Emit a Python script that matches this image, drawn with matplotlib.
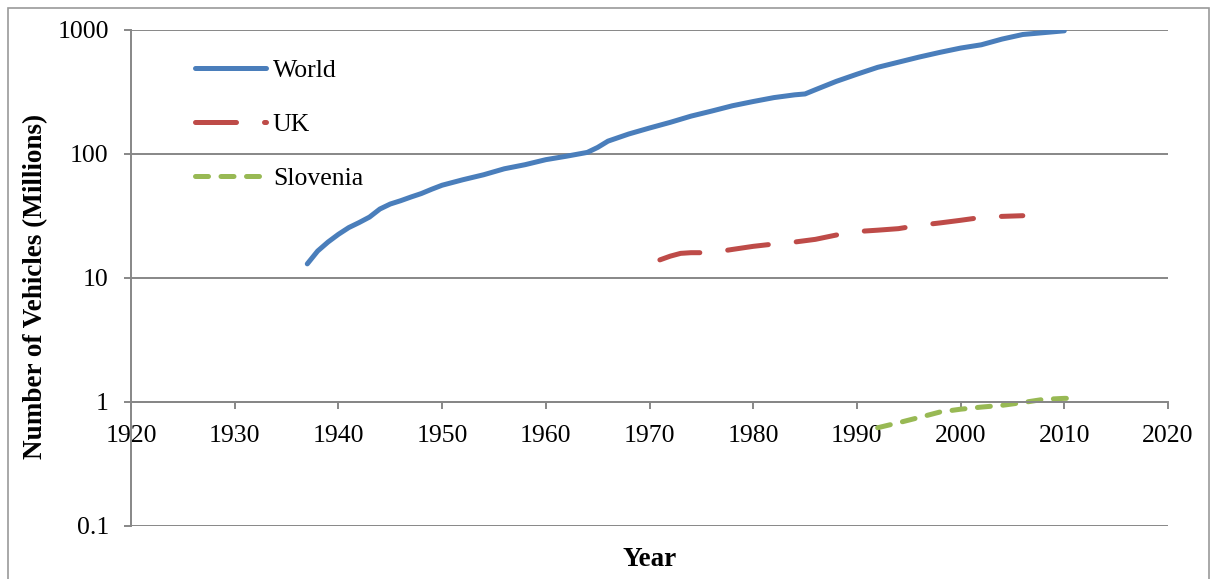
import matplotlib.pyplot as plt
from matplotlib.patches import Rectangle
from matplotlib.ticker import FixedLocator, NullLocator

plt.rcParams['font.family'] = ['Liberation Serif', 'DejaVu Serif']

# vehicles in use, millions
world_years = [1937, 1938, 1939, 1940, 1941, 1942, 1943, 1944, 1945, 1946, 1947, 1948,
               1949, 1950, 1952, 1954, 1956, 1958, 1960, 1962, 1964, 1965, 1966, 1968,
               1970, 1972, 1974, 1976, 1978, 1980, 1982, 1984, 1985, 1986, 1988, 1990,
               1992, 1994, 1996, 1998, 2000, 2002, 2004, 2006, 2008, 2010]
world = [13, 16.5, 19.5, 22.5, 25.5, 28, 31, 36, 39.5, 42, 45, 48,
         52, 56, 62, 68, 76, 82, 90, 96, 103, 113, 127, 145,
         162, 180, 202, 222, 245, 265, 285, 300, 305, 330, 385, 440,
         500, 550, 605, 660, 715, 760, 845, 920, 952, 985]

uk_years = [1971, 1972, 1973, 1974, 1975, 1977, 1978, 1980, 1982, 1984, 1986, 1988,
            1990, 1992, 1994, 1996, 1998, 2000, 2002, 2004, 2006]
uk = [14, 15, 15.8, 16, 16, 16.5, 17, 18, 18.8, 19.5, 20.5, 22.2,
      23.7, 24.3, 25, 26.6, 27.8, 29.2, 30.8, 31.4, 31.8]

slo_years = [1992, 1994, 1996, 1998, 2000, 2002, 2004, 2006, 2008, 2010, 2011]
slovenia = [0.62, 0.68, 0.75, 0.83, 0.875, 0.91, 0.94, 0.99, 1.05, 1.07, 1.07]

y_ticks = [0.1, 1, 10, 100, 1000]
y_labels = ['0.1', '1', '10', '100', '1000']
x_ticks = list(range(1920, 2021, 10))

fig = plt.figure(figsize=(12.1, 5.79), dpi=100)
ax = fig.add_axes([131 / 1210, 53 / 579, 1037 / 1210, 496 / 579])

grid_col = '#878787'
lw = 3.6

ax.plot(world_years, world, color='#4a7ebb', lw=lw, solid_capstyle='round',
        solid_joinstyle='round', label='World')
ax.plot(uk_years, uk, color='#be4b48', lw=lw, dashes=(8.2, 5.6),
        dash_capstyle='round', label='UK')
ax.plot(slo_years, slovenia, color='#98b954', lw=lw, dashes=(2.6, 2.5),
        dash_capstyle='round', label='Slovenia')

ax.set_yscale('log')
ax.set_ylim(0.1, 1000)
ax.set_xlim(1920, 2020)
ax.yaxis.set_major_locator(FixedLocator(y_ticks))
ax.yaxis.set_minor_locator(NullLocator())
ax.set_yticklabels(y_labels)
ax.set_xticks(x_ticks)
ax.set_xticklabels([str(x) for x in x_ticks])

ax.grid(axis='y', color=grid_col, lw=1.4)
ax.set_axisbelow(True)

# horizontal axis crosses at 1
for s in ['top', 'right']:
    ax.spines[s].set_visible(False)
ax.spines['bottom'].set_position(('data', 1))
ax.spines['bottom'].set_color(grid_col)
ax.spines['bottom'].set_linewidth(1.4)
ax.spines['left'].set_color(grid_col)
ax.spines['left'].set_linewidth(1.4)

ax.tick_params(axis='x', direction='out', length=5, width=1.4, color=grid_col,
               labelsize=18.5, pad=11.5)
ax.tick_params(axis='y', direction='out', length=5, width=1.4, color=grid_col,
               labelsize=18.5, pad=11)

leg = ax.legend(loc='upper left', bbox_to_anchor=(0.052, 0.962), frameon=False,
                fontsize=18.5, handlelength=2.77, handletextpad=0.25,
                labelspacing=1.2, borderaxespad=0)

fig.text(650 / 1210, 1 - 560 / 579, 'Year', ha='center', va='center',
         fontsize=19.5, fontweight='bold')
fig.text(36 / 1210, 1 - 286 / 579, 'Number of Vehicles (Millions)', ha='center',
         va='center', rotation=90, fontsize=19.5, fontweight='bold')

# chart area border
fig.patches.append(Rectangle((7.5 / 1210, -0.05), 1201 / 1210, 1.05 - 7.5 / 579,
                             transform=fig.transFigure, fill=False,
                             edgecolor='#9a9a9a', lw=1.2))

fig.savefig('out.png', dpi=100)
